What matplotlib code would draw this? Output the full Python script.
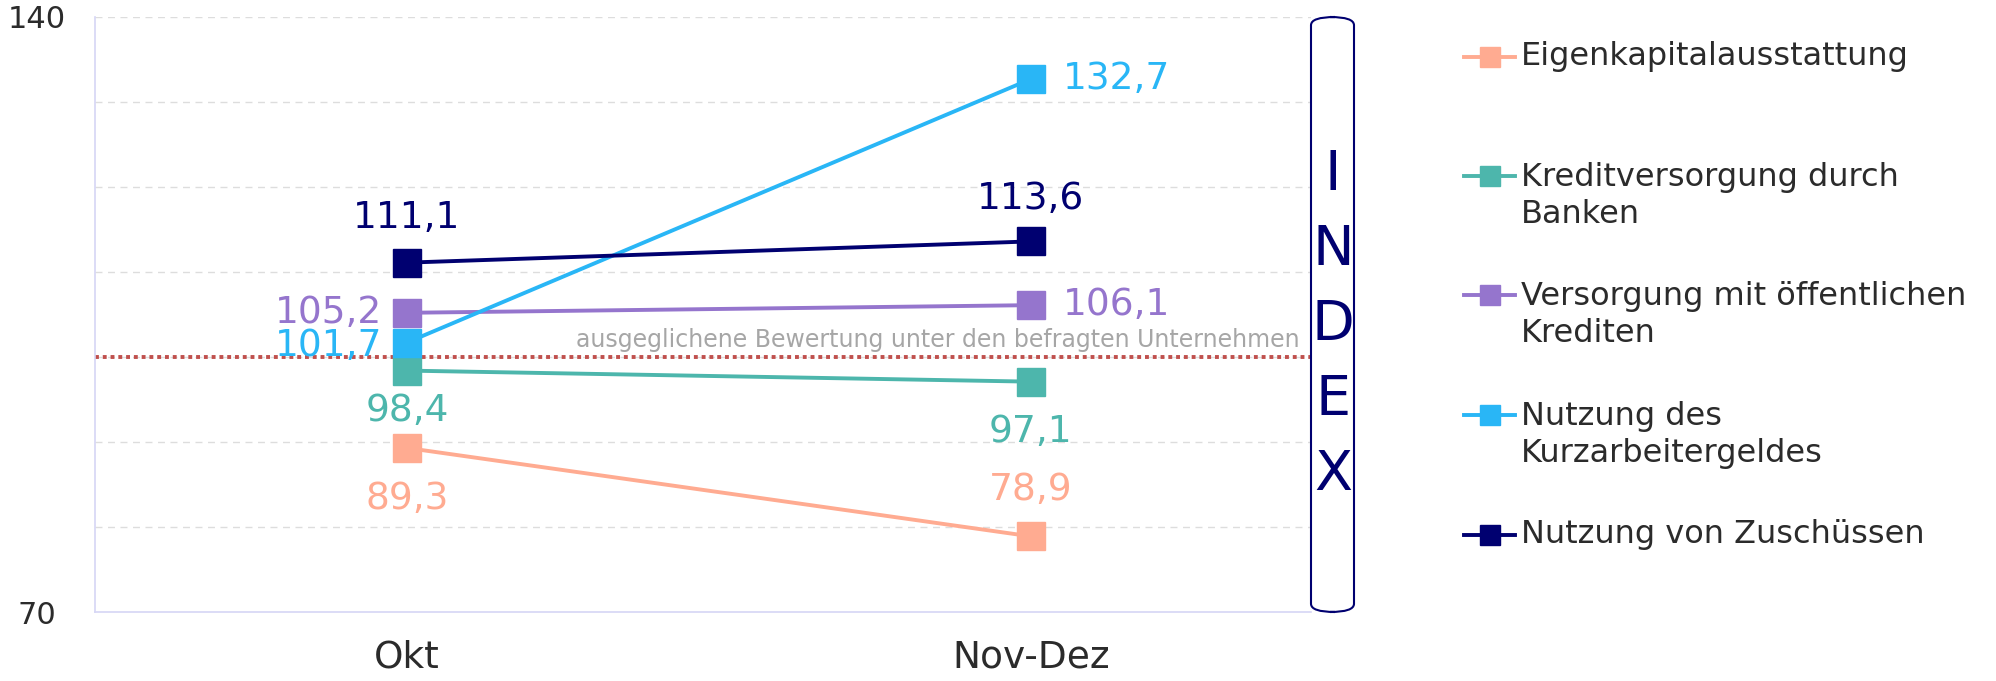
import numpy as np
import matplotlib.pyplot as plt
from matplotlib.lines import Line2D
from matplotlib.patches import FancyBboxPatch

# data
periods = ['Okt', 'Nov-Dez']
series_names = ['Eigenkapitalausstattung',
                'Kreditversorgung durch\nBanken',
                'Versorgung mit öffentlichen\nKrediten',
                'Nutzung des\nKurzarbeitergeldes',
                'Nutzung von Zuschüssen']
eigenkapital = [89.3, 78.9]
kredit_banken = [98.4, 97.1]
oeffentl_kredite = [105.2, 106.1]
kurzarbeit = [101.7, 132.7]
zuschuesse = [111.1, 113.6]
baseline = 100
ref_text = 'ausgeglichene Bewertung unter den befragten Unternehmen'

colors = ['#FFAB91', '#4DB6AC', '#9575CD', '#29B6F6', '#000070']
all_values = [eigenkapital, kredit_banken, oeffentl_kredite, kurzarbeit, zuschuesse]

# label offsets in pixels (dx, dy) and alignment per series/point
label_pos = [
    [((0, -51), 'center'), ((0, 46), 'center')],
    [((0, -40), 'center'), ((0, -50), 'center')],
    [((-25, 0), 'right'), ((32, 0), 'left')],
    [((-25, -3), 'right'), ((32, 0), 'left')],
    [((0, 45), 'center'), ((0, 42), 'center')],
]

W, H = 1996, 681
fig = plt.figure(figsize=(W / 100, H / 100), dpi=100)
ax = fig.add_axes([95 / W, 1 - 612 / H, (1311 - 95) / W, (612 - 17) / H])

x = np.arange(len(periods))
for vals, col, lp in zip(all_values, colors, label_pos):
    ax.plot(x, vals, color=col, lw=2.8, marker='s', markersize=20, zorder=3)
    for xi, v, ((dx, dy), ha) in zip(x, vals, lp):
        ax.annotate(f'{v:.1f}'.replace('.', ','), (xi, v), xytext=(dx, dy),
                    textcoords='offset pixels', ha=ha, va='center',
                    fontsize=27, color=col, zorder=4)

# reference line
ax.axhline(baseline, color='#C0504D', lw=2.8, ls=(0, (1, 1)), zorder=2)
ax.text(1.43, baseline + 0.6, ref_text, ha='right', va='bottom',
        fontsize=17, color='#A6A6A6', zorder=2)

ax.set_xlim(-0.5, 1.449)
ax.set_ylim(70, 140)
ax.set_xticks(x)
ax.set_xticklabels(periods, fontsize=27, color='#2b2b2b')
ax.set_yticks([70, 140])
ax.set_yticklabels(['70', '140'], fontsize=22, color='#2b2b2b', ha='center')
ax.tick_params(axis='y', length=0, pad=42)
ax.tick_params(axis='x', length=0, pad=20)
for g in range(80, 141, 10):
    ax.axhline(g, color='#dddddd', lw=1, ls=(0, (5, 4)), zorder=1)
for s in ['top', 'right']:
    ax.spines[s].set_visible(False)
for s in ['left', 'bottom']:
    ax.spines[s].set_color('#d6d6f5')
    ax.spines[s].set_linewidth(1.2)

# INDEX box
box = FancyBboxPatch((1311 / W, 1 - 612 / H), 43 / W, 595 / H,
                     boxstyle='round,pad=0,rounding_size=0.012',
                     transform=fig.transFigure, fc='white', ec='#000070', lw=1.5)
fig.patches.append(box)
fig.text(1333 / W, 1 - 325 / H, '\n'.join('INDEX'), ha='center', va='center',
         fontsize=40, color='#000070', linespacing=1.5)

# legend drawn by hand
leg_y = [57, 196, 315, 435, 535]
for name, col, yy in zip(series_names, colors, leg_y):
    yf = 1 - yy / H
    if '\n' in name:
        yl = yf + 20 / H
    else:
        yl = yf
    fig.add_artist(Line2D([1464 / W, 1515 / W], [yl, yl], color=col, lw=2.8,
                          transform=fig.transFigure))
    fig.add_artist(Line2D([1490 / W], [yl], color=col, marker='s', markersize=15,
                          transform=fig.transFigure))
    fig.text(1521 / W, yf, name, ha='left', va='center', fontsize=23,
             color='#2b2b2b', linespacing=1.25)

fig.savefig('out.png', dpi=100)
